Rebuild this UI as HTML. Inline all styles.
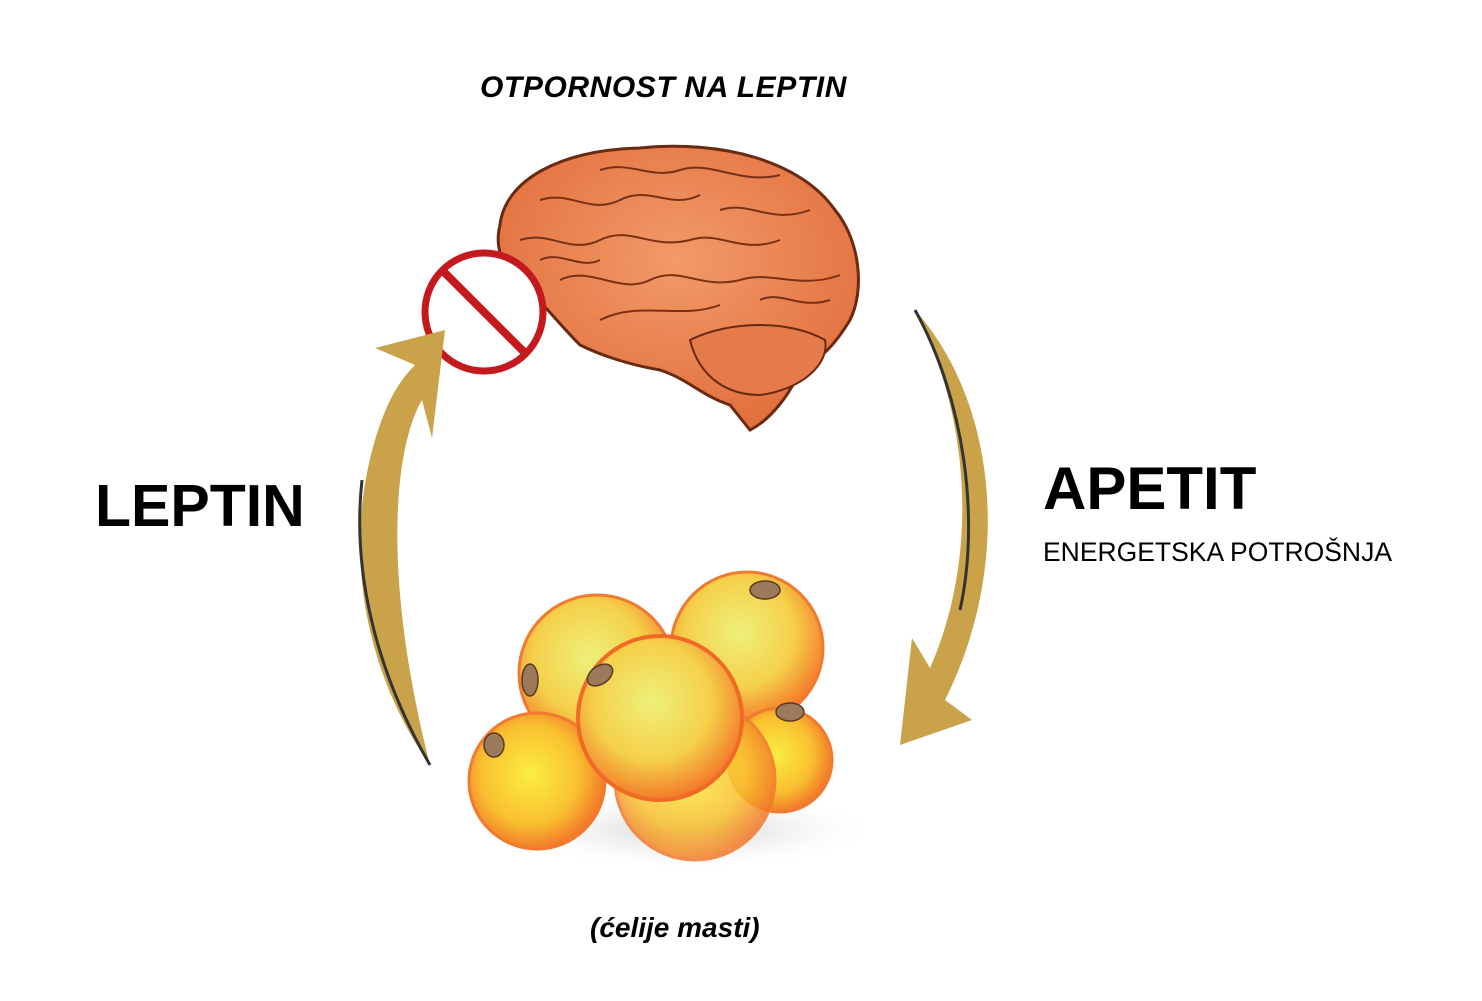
<!DOCTYPE html>
<html><head><meta charset="utf-8"><style>
html,body{margin:0;padding:0;background:#fff;}
body{width:1482px;height:1001px;position:relative;overflow:hidden;font-family:"Liberation Sans",sans-serif;}
.t{position:absolute;color:#000;white-space:nowrap;}
</style></head><body>
<svg width="1482" height="1001" style="position:absolute;left:0;top:0">
<defs>
<radialGradient id="c1" cx="0.45" cy="0.4" r="0.6">
<stop offset="0" stop-color="#eef07a"/><stop offset="0.6" stop-color="#f5d04a"/><stop offset="1" stop-color="#f37a2a"/></radialGradient>
<radialGradient id="c2" cx="0.45" cy="0.45" r="0.6">
<stop offset="0" stop-color="#fbee40"/><stop offset="0.6" stop-color="#f9c030"/><stop offset="1" stop-color="#f06a28"/></radialGradient>
<radialGradient id="br" cx="0.5" cy="0.4" r="0.6">
<stop offset="0" stop-color="#f39a6a"/><stop offset="1" stop-color="#e2703e"/></radialGradient>
<radialGradient id="sh" cx="0.5" cy="0.5" r="0.5"><stop offset="0" stop-color="#ccc"/><stop offset="1" stop-color="#fff" stop-opacity="0"/></radialGradient>
</defs>
<path d="M500,225 C505,180 560,150 640,148 C720,140 800,160 835,210 C860,240 865,290 850,320 C835,345 820,360 800,370 C790,395 770,420 750,430 L730,405 C700,395 690,380 660,370 C630,365 600,355 580,345 C560,325 540,300 520,280 C500,265 495,245 500,225Z" fill="url(#br)" stroke="#6a2a10" stroke-width="3"/>
<path d="M690,340 C730,320 790,320 825,340 C830,365 800,390 760,395 C730,395 700,380 690,340Z" fill="#e57a4a" stroke="#6a2a10" stroke-width="2"/>
<g fill="none" stroke="#7a3015" stroke-width="2">
<path d="M540,200 C570,190 590,215 620,200 C650,185 670,210 700,195"/>
<path d="M520,240 C550,230 570,255 600,240 C630,225 650,250 690,240 C720,230 740,255 780,240"/>
<path d="M560,280 C590,265 620,295 650,280 C680,265 700,290 740,280 C770,270 800,290 840,275"/>
<path d="M600,170 C630,160 650,180 680,170 C710,160 740,185 780,175"/>
<path d="M720,210 C750,200 770,225 810,210"/>
<path d="M600,320 C640,300 680,320 720,305"/>
<path d="M540,260 C560,250 580,270 600,260"/>
<path d="M760,300 C780,290 800,310 830,300"/>
</g>
<circle cx="484" cy="312" r="59" fill="#fff" stroke="#c41a1f" stroke-width="7"/>
<line x1="444" y1="272" x2="524" y2="352" stroke="#c41a1f" stroke-width="8"/>
<path d="M430,765 C370,680 340,560 375,440 C387,400 400,380 415,365 L375,348 L445,330 L432,438 L422,400 C398,440 378,560 430,765Z" fill="#c9a24a"/>
<path d="M430,765 C375,670 352,570 362,480" fill="none" stroke="#333" stroke-width="3"/>
<path d="M915,310 C995,400 1015,560 945,700 L972,720 L900,745 L912,638 L930,668 C978,560 972,420 915,310Z" fill="#c9a24a"/>
<path d="M915,310 C965,400 980,520 960,610" fill="none" stroke="#333" stroke-width="3"/>
<ellipse cx="690" cy="830" rx="190" ry="40" fill="url(#sh)"/>
<circle cx="597" cy="673" r="78" fill="url(#c1)" stroke="#f07a30" stroke-width="3"/>
<circle cx="747" cy="648" r="76" fill="url(#c1)" stroke="#f07a30" stroke-width="3"/>
<circle cx="780" cy="760" r="52" fill="url(#c2)" stroke="#f07a30" stroke-width="3"/>
<circle cx="537" cy="781" r="68" fill="url(#c2)" stroke="#f07a30" stroke-width="3"/>
<circle cx="695" cy="780" r="80" fill="url(#c2)" stroke="#f07a30" stroke-width="3" opacity="0.85"/>
<circle cx="660" cy="718" r="82" fill="url(#c1)" stroke="#ef6a25" stroke-width="4"/>
<g fill="#9a7a5a" stroke="#5a3a20" stroke-width="1.5">
<ellipse cx="765" cy="590" rx="15" ry="9"/><ellipse cx="600" cy="675" rx="14" ry="9" transform="rotate(-35 600 675)"/>
<ellipse cx="530" cy="680" rx="8" ry="16"/><ellipse cx="494" cy="745" rx="10" ry="12"/>
<ellipse cx="790" cy="712" rx="14" ry="9"/>
</g>
</svg>
<div class="t" style="left:480px;top:71px;font-size:30px;font-style:italic;font-weight:bold;letter-spacing:0.6px;">OTPORNOST NA LEPTIN</div>
<div class="t" style="left:95px;top:472px;font-size:59px;font-weight:bold;">LEPTIN</div>
<div class="t" style="left:1043px;top:454px;font-size:60px;font-weight:bold;">APETIT</div>
<div class="t" style="left:1043px;top:537px;font-size:26.5px;">ENERGETSKA POTROŠNJA</div>
<div class="t" style="left:590px;top:912px;font-size:28px;font-style:italic;font-weight:bold;">(ćelije masti)</div>
</body></html>
